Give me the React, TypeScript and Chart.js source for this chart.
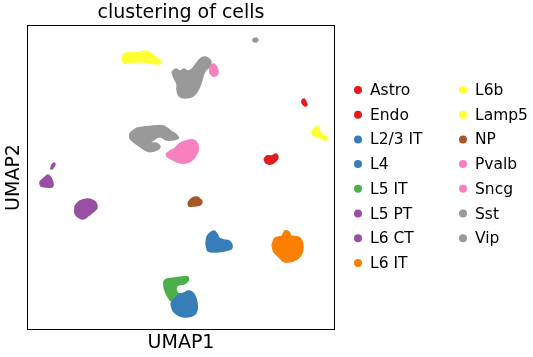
import React, { useEffect, useRef } from "react";
import { Chart, registerables } from "chart.js";

Chart.register(...registerables);

type Pt = [number, number];

const categories = ["Astro", "Endo", "L2/3 IT", "L4", "L5 IT", "L5 PT", "L6 CT", "L6 IT", "L6b", "Lamp5", "NP", "Pvalb", "Sncg", "Sst", "Vip"];
const categoryColors = ["#e41a1c", "#e41a1c", "#377eb8", "#377eb8", "#4daf4a", "#984ea3", "#984ea3", "#ff7f00", "#ffff33", "#ffff33", "#a65628", "#f781bf", "#f781bf", "#999999", "#999999"];

// Cluster outlines in UMAP units
const astroOutline: Pt[] = [[237, 171], [240, 174], [245, 174], [249, 176], [251, 173], [249, 169], [244, 166], [239, 167]];
const endoOutline: Pt[] = [[275, 230], [277, 231], [279, 228], [280, 225], [278, 224], [275, 227]];
const l23itOutline: Pt[] = [[144, 27], [148, 32], [153, 36], [157, 37], [161, 39], [165, 38], [168, 34], [170, 27], [170, 20], [167, 15], [160, 13], [153, 14], [147, 18], [145, 22]];
const l4Outline: Pt[] = [[179, 86], [180, 93], [183, 97], [187, 99], [190, 96], [192, 92], [197, 90], [202, 89], [205, 85], [204, 81], [197, 79], [188, 78], [181, 79]];
const l5itOutline: Pt[] = [[137, 49], [140, 51], [147, 52], [155, 53], [161, 53], [161, 49], [157, 46], [151, 45], [149, 42], [150, 38], [153, 34], [149, 28], [143, 30], [139, 37], [137, 43]];
const l5ptOutline: Pt[] = [[18, 153], [21, 155], [24, 152], [26, 147], [25, 143], [19, 143], [14, 144], [13, 148], [16, 151]];
const l5ptSmallOutline: Pt[] = [[24, 162], [25, 165], [27, 167], [28, 166], [26, 162], [24, 161]];
const l6ctOutline: Pt[] = [[48, 124], [53, 129], [60, 131], [65, 130], [69, 127], [70, 122], [66, 118], [61, 114], [56, 111], [51, 113], [48, 117]];
const l6itOutline: Pt[] = [[245, 85], [248, 92], [255, 94], [258, 99], [262, 98], [264, 94], [271, 93], [275, 89], [276, 82], [274, 75], [270, 71], [262, 68], [256, 69], [252, 73], [247, 78]];
const l6bOutline: Pt[] = [[286, 200], [289, 203], [292, 202], [293, 198], [296, 195], [300, 193], [299, 190], [295, 191], [291, 193], [287, 194], [285, 197]];
const lamp5Outline: Pt[] = [[96.3, 276], [103, 277.7], [111.3, 277.3], [118, 279], [123, 277.3], [128, 273.3], [133, 269.3], [134, 266.7], [129.7, 266], [121.3, 267.3], [114.7, 268.3], [108, 268], [101.3, 267.3], [97.3, 266.7], [95.3, 270]];
const npOutline: Pt[] = [[161, 127], [164, 131], [168, 133], [172, 132], [175, 128], [173, 125], [167, 124], [162, 124]];
const pvalbOutline: Pt[] = [[139.7, 176.7], [144.7, 180], [148, 181.7], [153, 186.7], [159.7, 189.3], [166.3, 190], [170.3, 186.7], [171.3, 180], [168, 173.3], [163, 168.3], [156.3, 166.7], [149.7, 168.3], [143, 171.7], [139.7, 174]];
const sncgOutline: Pt[] = [[183, 263], [186, 266], [189, 264], [191, 259], [190, 255], [186, 254], [183, 257]];
const sstOutline: Pt[] = [[145, 258], [149, 261], [153, 259], [157, 261], [161, 259], [165, 261], [169, 266], [173, 271], [177, 273], [181, 272], [184, 268], [182, 263], [178, 259], [176, 254], [174, 247], [171, 240], [166, 234], [158, 232], [152, 234], [150, 240], [150, 246], [147, 252]];
const sstDotOutline: Pt[] = [[226, 291], [229, 292], [231, 290], [229, 288], [226, 289]];
const vipOutline: Pt[] = [[103, 196.7], [109.7, 201.7], [126.3, 204], [136.3, 204], [144.7, 198.3], [149.7, 195], [151.3, 191.7], [139.7, 190], [133, 193.3], [126.3, 190], [123, 187.3], [129.7, 186.7], [133, 183.3], [129.7, 180], [123, 178.3], [118, 180], [113, 183.3], [106.3, 188.3], [103, 191.7]];

const clusterShapes: { category: string; outline: Pt[] }[] = [
  { category: "Astro", outline: astroOutline },
  { category: "Endo", outline: endoOutline },
  { category: "L2/3 IT", outline: l23itOutline },
  { category: "L4", outline: l4Outline },
  { category: "L5 IT", outline: l5itOutline },
  { category: "L5 PT", outline: l5ptOutline },
  { category: "L5 PT", outline: l5ptSmallOutline },
  { category: "L6 CT", outline: l6ctOutline },
  { category: "L6 IT", outline: l6itOutline },
  { category: "L6b", outline: l6bOutline },
  { category: "Lamp5", outline: lamp5Outline },
  { category: "NP", outline: npOutline },
  { category: "Pvalb", outline: pvalbOutline },
  { category: "Sncg", outline: sncgOutline },
  { category: "Sst", outline: sstOutline },
  { category: "Sst", outline: sstDotOutline },
  { category: "Vip", outline: vipOutline },
];

const xRange: Pt = [0, 308];
const yRange: Pt = [0, 305];

const FONT = "'DejaVu Sans', sans-serif";

const framePlugin = {
  id: "frame",
  afterDatasetsDraw(chart: any) {
    const { ctx, chartArea } = chart;
    ctx.save();
    ctx.strokeStyle = "#000";
    ctx.lineWidth = 1;
    const l = Math.round(chartArea.left) + 0.5;
    const t = Math.round(chartArea.top) + 0.5;
    const r = Math.round(chartArea.right) - 0.5;
    const b = Math.round(chartArea.bottom) - 0.5;
    ctx.strokeRect(l, t, r - l, b - t);
    ctx.restore();
  },
};

const legendPlugin = {
  id: "sideLegend",
  afterDraw(chart: any) {
    const { ctx, chartArea } = chart;
    ctx.save();
    ctx.font = `15.5px ${FONT}`;
    ctx.textBaseline = "middle";
    ctx.textAlign = "left";
    categories.forEach((cat, i) => {
      const col = i < 8 ? 0 : 1;
      const row = i < 8 ? i : i - 8;
      const mx = chartArea.right + (col === 0 ? 23 : 128);
      const y = 90 + row * 24.7;
      ctx.fillStyle = categoryColors[i];
      ctx.beginPath();
      ctx.arc(mx, y, 4, 0, Math.PI * 2);
      ctx.fill();
      ctx.fillStyle = "#000";
      ctx.fillText(cat, mx + 12, y + 1);
    });
    ctx.restore();
  },
};

export default function App() {
  const canvasRef = useRef<HTMLCanvasElement | null>(null);

  useEffect(() => {
    document.body.style.margin = "0";
    const canvas = canvasRef.current;
    if (!canvas) return;
    Chart.defaults.font.family = FONT;

    const datasets = clusterShapes.map((s) => {
      const color = categoryColors[categories.indexOf(s.category)];
      const pts = [...s.outline, s.outline[0]].map(([x, y]) => ({ x, y }));
      return {
        label: s.category,
        data: pts,
        showLine: true,
        fill: "shape",
        backgroundColor: color,
        borderColor: color,
        borderWidth: 1.5,
        pointRadius: 0,
        tension: 0.3,
      };
    });

    const chart = new Chart(canvas, {
      type: "scatter",
      data: { datasets: datasets as any },
      options: {
        animation: false,
        responsive: false,
        devicePixelRatio: 1,
        maintainAspectRatio: false,
        layout: { padding: { left: 2.2, right: 198, top: 0.2, bottom: 2.2 } },
        plugins: {
          legend: { display: false },
          tooltip: { enabled: false },
          title: {
            display: true,
            text: "clustering of cells",
            color: "#000",
            fullSize: false,
            font: { size: 19, family: FONT, weight: "normal" },
            padding: { top: 1, bottom: 1 },
          },
        },
        scales: {
          x: {
            type: "linear",
            min: xRange[0],
            max: xRange[1],
            ticks: { display: false },
            grid: { display: false, drawTicks: false },
            border: { display: false },
            title: {
              display: true,
              text: "UMAP1",
              color: "#000",
              font: { size: 19, family: FONT },
              padding: { top: 2, bottom: 0 },
            },
          },
          y: {
            type: "linear",
            min: yRange[0],
            max: yRange[1],
            ticks: { display: false },
            grid: { display: false, drawTicks: false },
            border: { display: false },
            title: {
              display: true,
              text: "UMAP2",
              color: "#000",
              font: { size: 19, family: FONT },
              padding: { top: 0, bottom: 2 },
            },
          },
        },
      },
      plugins: [framePlugin, legendPlugin],
    });
    return () => chart.destroy();
  }, []);

  return (
    <canvas
      ref={canvasRef}
      width={533}
      height={357}
      style={{ display: "block", width: 533, height: 357 }}
    />
  );
}
